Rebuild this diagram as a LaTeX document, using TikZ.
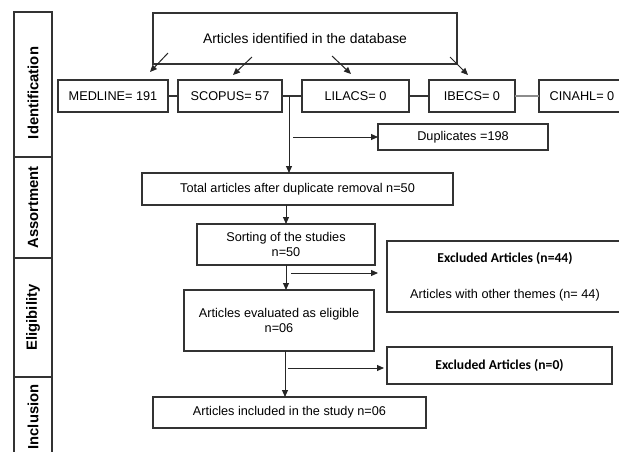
\documentclass[tikz,border=0pt]{standalone}
\usepackage{fontspec}
\setmainfont{Liberation Sans}
\newfontfamily\calibri{Carlito}
\usetikzlibrary{positioning, arrows.meta}

\begin{document}
\begin{tikzpicture}[
x=1pt, y=-1pt,
box/.style={
draw=black!80,
line width=1.1pt,
rectangle,
inner sep=0pt,
outer sep=0pt,
align=center,
font=\fontsize{12.7}{14.5}\selectfont,
text=black
},
phase/.style={
draw=black!80,
line width=1.2pt,
rectangle,
rotate=90,
inner sep=0pt,
outer sep=0pt,
minimum height=38pt,
font=\fontsize{14.8}{16}\selectfont\bfseries
},
arr/.style={-{Triangle[length=7pt,width=6pt]}, line width=1pt, black!85},
link/.style={line width=1.1pt, black!80}
]
\useasboundingbox (0,0) rectangle (619,451);

\node[phase, minimum width=145pt] (ident) at (33,84.5) {Identification\hspace*{17pt}\mbox{}};
\node[phase, minimum width=101pt] (assort) at (33,207.5) {Assortment};
\node[phase, minimum width=119pt] (elig) at (33,317.5) {Eligibility};
\node[phase, minimum width=80pt] (incl) at (33,417) {Inclusion};

\node[box, minimum width=304pt, minimum height=51pt, font=\fontsize{13.9}{16}\selectfont] (search) at (305,38.5) {Articles identified in the database};
\node[box, minimum width=110pt, minimum height=32pt] (medline) at (113,96) {MEDLINE= 191};
\node[box, minimum width=104pt, minimum height=32pt, right=10pt of medline] (scopus) {SCOPUS= 57};
\node[box, minimum width=107pt, minimum height=32pt, right=20pt of scopus] (lilacs) {LILACS= 0};
\node[box, minimum width=86pt, minimum height=32pt, right=20pt of lilacs] (ibecs) {IBECS= 0};
\node[box, minimum width=86pt, minimum height=32pt, right=24pt of ibecs] (cinahl) {CINAHL= 0};
\node[box, minimum width=170pt, minimum height=26pt] (dup) at (463,137) {Duplicates =198};
\node[box, minimum width=311pt, minimum height=32pt] (total) at (297.5,189) {Total articles after duplicate removal n=50};
\node[box, minimum width=178pt, minimum height=41pt] (sorting) at (286,244.5) {Sorting of the studies\\n=50};
\node[box, minimum width=236pt, minimum height=71pt] (excl44) at (505,276.5) {{\calibri\bfseries\fontsize{13.6}{15}\selectfont Excluded Articles (n=44)}\\[21.5pt]Articles with other themes (n= 44)};
\node[box, minimum width=190pt, minimum height=61pt] (eligible) at (279,320.5) {Articles evaluated as eligible\\n=06};
\node[box, minimum width=225pt, minimum height=37pt, font=\calibri\bfseries\fontsize{13.6}{15}\selectfont] (excl0) at (499.5,365.5) {Excluded Articles (n=0)};
\node[box, minimum width=273pt, minimum height=31pt] (included) at (289.5,412.5) {Articles included in the study n=06};

\draw[arr] ([shift={(15,-11)}]search.south west) -- ([shift={(-18,-8)}]medline.north east);
\draw[arr] ([shift={(99,-7)}]search.south west) -- ([shift={(3,-5)}]scopus.north);
\draw[arr] ([shift={(27,-8)}]search.south) -- ([shift={(-4.5,-6)}]lilacs.north);
\draw[arr] ([shift={(-7,-7)}]search.south east) -- ([shift={(-4,-5)}]ibecs.north);

\foreach \i/\j in {medline/scopus, scopus/lilacs, lilacs/ibecs}
\draw[link] (\i) -- (\j);
\draw[link, black!45] (ibecs) -- (cinahl);

\coordinate (split) at (289,96);
\draw[arr] (split) -- (split |- total.north);
\draw[arr] ([xshift=4pt]split |- dup.west) -- (dup.west);
\draw[arr] (sorting.north |- total.south) -- (sorting.north);
\draw[arr] (sorting.south) -- (sorting.south |- eligible.north);
\coordinate (ex44) at (291,273);
\draw[arr, shorten >=9pt] (ex44) -- (ex44 -| excl44.west);
\draw[arr] ([xshift=-1pt]sorting.south |- eligible.south) -- ([xshift=-1pt]sorting.south |- included.north);
\coordinate (ex0) at (288,368);
\draw[arr, shorten >=3pt] (ex0) -- (ex0 -| excl0.west);
\end{tikzpicture}
\end{document}
